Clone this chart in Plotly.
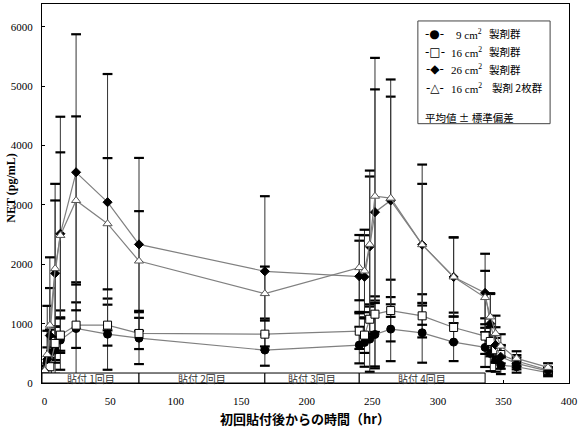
import plotly.graph_objects as go

# ---------------- data ----------------
time_hr = [0, 2, 4, 8, 12, 24, 48, 72, 168, 240, 244, 248, 252, 264, 288, 312, 336, 340, 344, 348, 360, 384]

net_9cm = [180, 350, 500, 555, 723, 919, 823, 756, 555, 639, 684, 739, 818, 908, 846, 689, 600, 499, 390, 300, 274, 174]
sd_9cm = [60, 250, 400, 400, 500, 778, 600, 437, 264, 308, 410, 549, 571, 540, 504, 320, 330, 300, 200, 150, 100, 60]

net_16cm = [170, 230, 274, 667, 807, 975, 975, 835, 823, 874, 807, 1075, 1160, 1221, 1132, 936, 790, 700, 560, 480, 370, 218]
sd_16cm = [50, 100, 150, 280, 300, 384, 345, 263, 263, 300, 300, 250, 300, 520, 364, 250, 300, 250, 200, 150, 100, 50]

net_26cm = [200, 400, 800, 1849, 2515, 3551, 3047, 2336, 1882, 1798, 1790, 2300, 2879, 3076, 2331, 1787, 1518, 1000, 640, 440, 330, 200]
sd_26cm = [80, 900, 800, 1507, 1972, 2326, 2160, 1457, 1266, 600, 700, 1180, 2600, 1750, 1025, 667, 660, 500, 300, 200, 100, 60]

net_16x2 = [210, 480, 975, 1928, 2487, 3076, 2684, 2056, 1507, 1944, 1888, 2336, 3148, 3115, 2331, 1787, 1440, 1114, 835, 622, 415, 263]
sd_16x2 = [80, 400, 1143, 1148, 1400, 1417, 1106, 840, 455, 550, 695, 1244, 1800, 2000, 1350, 667, 450, 400, 300, 200, 120, 70]

series_sizes = ["9", "16", "26", "16"]
series_tail = ["製剤群", "製剤群", "製剤群", "製剤 2枚群"]
legend_glyphs = ["-●-", "-□-", "-◆-", "-△-"]

patch_labels = ["貼付 1回目", "貼付 2回目", "貼付 3回目", "貼付 4回目"]
patch_start = [0, 72, 168, 240]
patch_end = [72, 168, 240, 336]

x_ticks = [0, 50, 100, 150, 200, 250, 300, 350, 400]
y_ticks = [0, 1000, 2000, 3000, 4000, 5000, 6000]

# ---------------- styling ----------------
SERIF = "Liberation Serif, Noto Sans CJK JP, serif"
CJK = "Noto Sans CJK JP, Liberation Serif, sans-serif"
XR = [-2, 400]
YR = [0, 6387]
PL, PR, PT, PB = 42, 572, 3, 383  # plot area in pixels


def px2x(px):
    return (px - PL) / (PR - PL)


def py2y(py):
    return (PB - py) / (PB - PT)


styles = [
    dict(symbol="circle", size=8, color="black", line=dict(color="black", width=1)),
    dict(symbol="square", size=8, color="white", line=dict(color="black", width=1)),
    dict(symbol="diamond", size=7, color="black", line=dict(color="black", width=1)),
    dict(symbol="triangle-up", size=8, color="white", line=dict(color="#555", width=1)),
]

series = [(net_9cm, sd_9cm), (net_16cm, sd_16cm), (net_26cm, sd_26cm), (net_16x2, sd_16x2)]

fig = go.Figure()

# error bars + caps
for (vals, sds) in series:
    fig.add_trace(go.Scatter(
        x=time_hr, y=vals, mode="none", showlegend=False, hoverinfo="skip",
        error_y=dict(type="data", array=sds, visible=True, color="#333", thickness=1, width=0),
    ))
    fig.add_trace(go.Scatter(
        x=time_hr + time_hr,
        y=[v + s for v, s in zip(vals, sds)] + [v - s for v, s in zip(vals, sds)],
        mode="markers", showlegend=False, hoverinfo="skip",
        marker=dict(symbol="line-ew", size=7, line=dict(color="black", width=2.2)),
    ))

# lines + markers
for i, (vals, sds) in enumerate(series):
    fig.add_trace(go.Scatter(
        x=time_hr, y=vals, mode="lines+markers", showlegend=False,
        name=f"{series_sizes[i]} cm² {series_tail[i]}",
        line=dict(color="#808080", width=1.2),
        marker=styles[i],
    ))

# patch boxes
for s, e, lab in zip(patch_start, patch_end, patch_labels):
    x0 = XR[0] if s == 0 else s
    fig.add_shape(type="rect", xref="x", yref="y", x0=x0, x1=e, y0=0, y1=168,
                  fillcolor="white", line=dict(color="black", width=1), layer="above")
    fig.add_annotation(x=(x0 + e) / 2, y=84, xref="x", yref="y", text=lab, showarrow=False,
                       font=dict(family=CJK, size=10, color="#333"))

# legend (drawn)
fig.add_shape(type="rect", xref="paper", yref="paper",
              x0=px2x(420), x1=px2x(553), y0=py2y(123), y1=py2y(20),
              fillcolor="white", line=dict(color="#444", width=1), layer="above")
leg_y = [33, 51, 68.5, 87]
for i in range(4):
    fig.add_annotation(xref="paper", yref="paper", x=px2x(437), y=py2y(leg_y[i]),
                       text=legend_glyphs[i], showarrow=False, xanchor="center", yanchor="middle",
                       font=dict(family="DejaVu Sans", size=12, color="black"))
    fig.add_annotation(xref="paper", yref="paper", x=px2x(487), y=py2y(leg_y[i]),
                       text=f"{series_sizes[i]} cm<sup>2</sup>", showarrow=False,
                       xanchor="right", yanchor="middle",
                       font=dict(family=SERIF, size=11, color="black"))
    fig.add_annotation(xref="paper", yref="paper", x=px2x(490 if i < 3 else 493), y=py2y(leg_y[i]),
                       text=series_tail[i], showarrow=False, xanchor="left", yanchor="middle",
                       font=dict(family=CJK, size=10.5, color="black"))
fig.add_annotation(xref="paper", yref="paper", x=px2x(425), y=py2y(117),
                   text="平均値 ± 標準偏差", showarrow=False, xanchor="left", yanchor="middle",
                   font=dict(family=CJK, size=10.5, color="black"))

# axis titles
fig.add_annotation(xref="paper", yref="paper", x=px2x(306), y=py2y(419),
                   text="<b>初回貼付後からの時間（hr）</b>", showarrow=False,
                   xanchor="center", yanchor="middle",
                   font=dict(family=CJK, size=13, color="black"))
fig.add_annotation(xref="paper", yref="paper", x=px2x(10), y=py2y(188),
                   text="<b>NET (pg/mL)</b>", showarrow=False, textangle=-90,
                   xanchor="center", yanchor="middle",
                   font=dict(family=SERIF, size=12, color="black"))

fig.update_xaxes(range=XR, tickvals=x_ticks, ticktext=[str(t) for t in x_ticks],
                 showline=True, mirror=True, linecolor="black", linewidth=1,
                 ticks="inside", ticklen=3, tickcolor="black", showgrid=False, zeroline=False,
                 ticklabelstandoff=8, tickfont=dict(family=SERIF, size=11, color="black"))
fig.update_yaxes(range=YR, tickvals=y_ticks, ticktext=[str(t) for t in y_ticks],
                 showline=True, mirror=True, linecolor="black", linewidth=1,
                 ticks="inside", ticklen=3, tickcolor="black", showgrid=False, zeroline=False,
                 ticklabelstandoff=6, tickfont=dict(family=SERIF, size=11, color="black"))

fig.update_layout(
    width=581, height=430,
    margin=dict(l=PL, r=581 - PR, t=PT, b=430 - PB),
    paper_bgcolor="white", plot_bgcolor="white",
    showlegend=False,
)

fig.write_html("out.html")
